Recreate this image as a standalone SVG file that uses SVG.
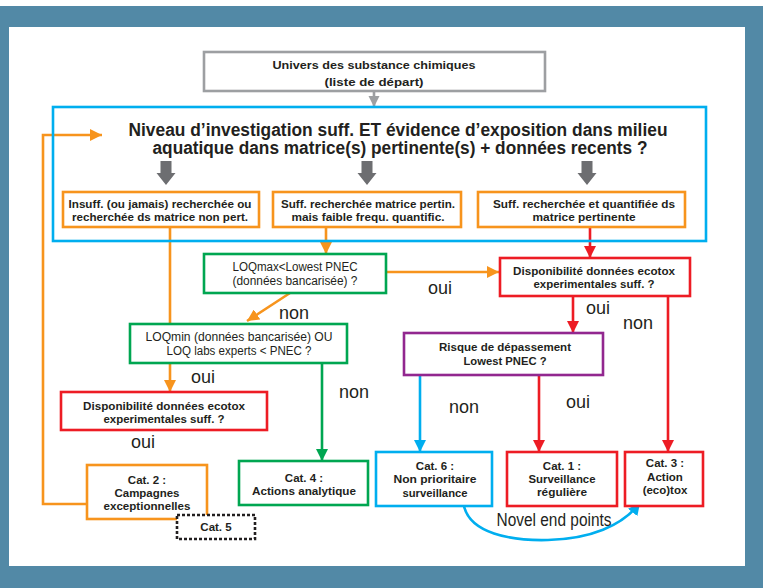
<svg xmlns="http://www.w3.org/2000/svg" width="763" height="588" viewBox="0 0 763 588">
  <style>
    .box { fill: #ffffff; stroke-width: 2.6; }
    .b { font-family: "Liberation Sans", Arial, sans-serif; font-weight: bold; font-size: 11.5px; fill: #231f20; text-anchor: middle; }
    .r { font-family: "Liberation Sans", Arial, sans-serif; font-size: 12px; fill: #231f20; text-anchor: middle; }
    .lbl { font-family: "Liberation Sans", Arial, sans-serif; font-size: 18px; fill: #231f20; text-anchor: middle; }
    .title { font-family: "Liberation Sans", Arial, sans-serif; font-weight: bold; font-size: 17.5px; fill: #231f20; text-anchor: middle; }
    .orange { stroke: #f7941d; }
    .green { stroke: #00a651; }
    .red { stroke: #ed1c24; }
    .blue { stroke: #00aeef; }
    .purple { stroke: #92278f; }
    .gray { stroke: #9d9fa2; }
    .ln { fill: none; stroke-width: 2.6; }
  </style>
  <defs>
    <marker id="ah-orange" viewBox="0 0 12 12" refX="12" refY="6" markerWidth="12" markerHeight="12" markerUnits="userSpaceOnUse" orient="auto">
      <path d="M0,0 L12,6 L0,12 z" fill="#f7941d"/>
    </marker>
    <marker id="ah-red" viewBox="0 0 12 12" refX="12" refY="6" markerWidth="12" markerHeight="13" markerUnits="userSpaceOnUse" orient="auto">
      <path d="M0,0 L12,6 L0,12 z" fill="#ed1c24"/>
    </marker>
    <marker id="ah-green" viewBox="0 0 12 12" refX="12" refY="6" markerWidth="12" markerHeight="13" markerUnits="userSpaceOnUse" orient="auto">
      <path d="M0,0 L12,6 L0,12 z" fill="#00a651"/>
    </marker>
    <marker id="ah-blue" viewBox="0 0 12 12" refX="12" refY="6" markerWidth="12" markerHeight="13" markerUnits="userSpaceOnUse" orient="auto">
      <path d="M0,0 L12,6 L0,12 z" fill="#00aeef"/>
    </marker>
    <marker id="ah-gray" viewBox="0 0 12 12" refX="12" refY="6" markerWidth="11" markerHeight="12" markerUnits="userSpaceOnUse" orient="auto">
      <path d="M0,0 L12,6 L0,12 z" fill="#9d9fa2"/>
    </marker>
    <path id="fat-arrow" d="M-5.5,0 H5.5 V12 H9.5 L0,24 L-9.5,12 H-5.5 z" fill="#6d6e71"/>
  </defs>

  <!-- frame -->
  <rect x="0" y="0" width="763" height="588" fill="#5289a6"/>
  <rect x="0" y="0" width="763" height="6" fill="#ffffff"/>
  <rect x="9" y="27" width="736" height="539" fill="#ffffff"/>

  <!-- connectors -->
  <g id="connectors">
    <line class="ln gray" x1="374" y1="91" x2="374" y2="107" marker-end="url(#ah-gray)"/>
    <polyline class="ln orange" points="87,504 43,504 43,135 102,135" marker-end="url(#ah-orange)"/>
    <line class="ln orange" x1="170" y1="227" x2="170" y2="324"/>
    <line class="ln orange" x1="326" y1="227" x2="326" y2="254" marker-end="url(#ah-orange)"/>
    <line class="ln orange" x1="386" y1="272" x2="499" y2="272" marker-end="url(#ah-orange)"/>
    <line class="ln orange" x1="290" y1="293" x2="247" y2="321" marker-end="url(#ah-orange)"/>
    <line class="ln orange" x1="170" y1="363" x2="170" y2="392" marker-end="url(#ah-orange)"/>
    <line class="ln green" x1="322" y1="363" x2="322" y2="461" marker-end="url(#ah-green)"/>
    <line class="ln red" x1="590" y1="227" x2="590" y2="258" marker-end="url(#ah-red)"/>
    <line class="ln red" x1="573" y1="296" x2="573" y2="333" marker-end="url(#ah-red)"/>
    <line class="ln red" x1="668" y1="296" x2="668" y2="452" marker-end="url(#ah-red)"/>
    <line class="ln blue" x1="420" y1="375" x2="420" y2="452" marker-end="url(#ah-blue)"/>
    <line class="ln red" x1="539" y1="375" x2="539" y2="452" marker-end="url(#ah-red)"/>
    <path class="ln blue" d="M464,506 C470,533 510,541 548,540 C590,539 622,526 640,503" marker-end="url(#ah-blue)"/>

    <text class="lbl" x="440" y="294">oui</text>
    <text class="lbl" x="294" y="319">non</text>
    <text class="lbl" x="203" y="383">oui</text>
    <text class="lbl" x="354" y="398">non</text>
    <text class="lbl" x="143" y="448">oui</text>
    <text class="lbl" x="598" y="314">oui</text>
    <text class="lbl" x="638" y="329">non</text>
    <text class="lbl" x="464" y="413">non</text>
    <text class="lbl" x="578" y="408">oui</text>
    <text class="lbl" x="554" y="526" font-size="15" textLength="115" lengthAdjust="spacingAndGlyphs">Novel end points</text>
  </g>

  <!-- nodes -->
  <g id="start">
    <rect class="box gray" x="204" y="52" width="341" height="39" stroke-width="3"/>
    <text class="b" x="374" y="69" textLength="203" lengthAdjust="spacingAndGlyphs">Univers des substance chimiques</text>
    <text class="b" x="374" y="86" textLength="99" lengthAdjust="spacingAndGlyphs">(liste de départ)</text>
  </g>

  <g id="investigation">
    <rect class="blue" x="53" y="107" width="653" height="134" fill="none" stroke-width="2.6"/>
    <text class="title" x="398" y="136" textLength="539" lengthAdjust="spacingAndGlyphs">Niveau d’investigation suff. ET évidence d’exposition dans milieu</text>
    <text class="title" x="400" y="154" textLength="495" lengthAdjust="spacingAndGlyphs">aquatique dans matrice(s) pertinente(s) + données recents ?</text>
    <use href="#fat-arrow" x="166" y="161"/>
    <use href="#fat-arrow" x="367" y="161"/>
    <use href="#fat-arrow" x="587" y="161"/>
  </g>

  <g id="insuff">
    <rect class="box orange" x="63" y="192" width="196" height="35"/>
    <text class="b" x="160" y="208" textLength="183" lengthAdjust="spacingAndGlyphs">Insuff. (ou jamais) recherchée ou</text>
    <text class="b" x="160" y="221" textLength="176" lengthAdjust="spacingAndGlyphs">recherchée ds matrice non pert.</text>
  </g>

  <g id="suff-faible">
    <rect class="box orange" x="273" y="192" width="188" height="35"/>
    <text class="b" x="368" y="208" textLength="174" lengthAdjust="spacingAndGlyphs">Suff. recherchée matrice pertin.</text>
    <text class="b" x="368" y="221" textLength="153" lengthAdjust="spacingAndGlyphs">mais faible frequ. quantific.</text>
  </g>

  <g id="suff-quantifiee">
    <rect class="box orange" x="478" y="192" width="207" height="35"/>
    <text class="b" x="584" y="208" textLength="182" lengthAdjust="spacingAndGlyphs">Suff. recherchée et quantifiée ds</text>
    <text class="b" x="584" y="221" textLength="103" lengthAdjust="spacingAndGlyphs">matrice pertinente</text>
  </g>

  <g id="loqmax">
    <rect class="box green" x="204" y="254" width="182" height="39"/>
    <text class="r" x="295" y="271" textLength="125" lengthAdjust="spacingAndGlyphs">LOQmax&lt;Lowest PNEC</text>
    <text class="r" x="295" y="285" textLength="125" lengthAdjust="spacingAndGlyphs">(données bancarisée) ?</text>
  </g>

  <g id="loqmin">
    <rect class="box green" x="130" y="324" width="217" height="39"/>
    <text class="r" x="239" y="341" textLength="187" lengthAdjust="spacingAndGlyphs">LOQmin (données bancarisée) OU</text>
    <text class="r" x="239" y="355" textLength="145" lengthAdjust="spacingAndGlyphs">LOQ labs experts &lt; PNEC ?</text>
  </g>

  <g id="ecotox-left">
    <rect class="box red" x="61" y="392" width="206" height="38"/>
    <text class="b" x="164" y="410" textLength="162" lengthAdjust="spacingAndGlyphs">Disponibilité données ecotox</text>
    <text class="b" x="164" y="423" textLength="121" lengthAdjust="spacingAndGlyphs">experimentales suff. ?</text>
  </g>

  <g id="ecotox-right">
    <rect class="box red" x="500" y="258" width="190" height="38"/>
    <text class="b" x="594" y="275" textLength="162" lengthAdjust="spacingAndGlyphs">Disponibilité données ecotox</text>
    <text class="b" x="594" y="288" textLength="121" lengthAdjust="spacingAndGlyphs">experimentales suff. ?</text>
  </g>

  <g id="risque">
    <rect class="box purple" x="404" y="333" width="199" height="42"/>
    <text class="b" x="505" y="351" textLength="132" lengthAdjust="spacingAndGlyphs">Risque de dépassement</text>
    <text class="b" x="505" y="365" textLength="83" lengthAdjust="spacingAndGlyphs">Lowest PNEC ?</text>
  </g>

  <g id="cat2">
    <rect class="box orange" x="87" y="465" width="120" height="54"/>
    <text class="b" x="147" y="484" font-size="12">Cat. 2 :</text>
    <text class="b" x="147" y="497" font-size="12" textLength="65" lengthAdjust="spacingAndGlyphs">Campagnes</text>
    <text class="b" x="147" y="510" font-size="12" textLength="87" lengthAdjust="spacingAndGlyphs">exceptionnelles</text>
  </g>

  <g id="cat5">
    <rect x="177" y="515" width="78" height="24" fill="#ffffff" stroke="#231f20" stroke-width="2.6" stroke-dasharray="3 2"/>
    <text class="b" x="216" y="531" font-size="12.5">Cat. 5</text>
  </g>

  <g id="cat4">
    <rect class="box green" x="239" y="461" width="129" height="44"/>
    <text class="b" x="304" y="482" font-size="12">Cat. 4 :</text>
    <text class="b" x="304" y="495" font-size="12" textLength="104" lengthAdjust="spacingAndGlyphs">Actions analytique</text>
  </g>

  <g id="cat6">
    <rect class="box blue" x="376" y="452" width="116" height="54"/>
    <text class="b" x="435" y="470" font-size="12">Cat. 6 :</text>
    <text class="b" x="435" y="483" font-size="12" textLength="83" lengthAdjust="spacingAndGlyphs">Non prioritaire</text>
    <text class="b" x="435" y="497" font-size="12" textLength="65" lengthAdjust="spacingAndGlyphs">surveillance</text>
  </g>

  <g id="cat1">
    <rect class="box red" x="507" y="452" width="110" height="54"/>
    <text class="b" x="562" y="470" font-size="12">Cat. 1 :</text>
    <text class="b" x="562" y="483" font-size="12" textLength="67" lengthAdjust="spacingAndGlyphs">Surveillance</text>
    <text class="b" x="562" y="496" font-size="12" textLength="50" lengthAdjust="spacingAndGlyphs">régulière</text>
  </g>

  <g id="cat3">
    <rect class="box red" x="625" y="452" width="78" height="54"/>
    <text class="b" x="665" y="467" font-size="12">Cat. 3 :</text>
    <text class="b" x="665" y="481" font-size="12">Action</text>
    <text class="b" x="665" y="494" font-size="12">(eco)tox</text>
  </g>
</svg>
